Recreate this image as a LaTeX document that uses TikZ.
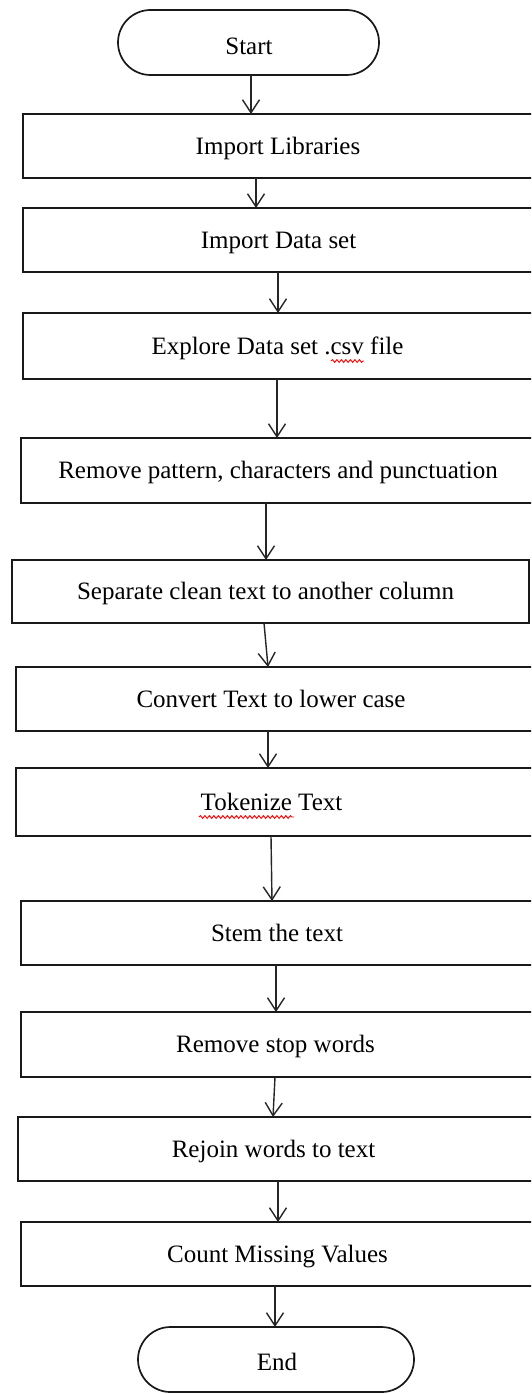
\documentclass[tikz,border=0pt]{standalone}
\usepackage{fontspec}
\setmainfont{Liberation Serif}
\usetikzlibrary{arrows.meta,shapes.misc,decorations.pathmorphing}

% box: name, left, top, right, bottom, text centre x, text
\newcommand\flowbox[7]{%
  \node[boxst, minimum width={#4-#2}, minimum height={#5-#3}] (#1) at ({(#2+#4)/2},{(#3+#5)/2}) {};
  \node[lbl] (#1t) at (#6,{(#3+#5)/2}) {#7};}

\begin{document}
\begin{tikzpicture}[x=1pt,y=-1pt,
  boxst/.style={draw=black!90, line width=1.7pt, rectangle, inner sep=0pt, outer sep=0pt},
  termst/.style={draw=black!90, line width=1.7pt, rounded rectangle, inner sep=0pt, outer sep=0pt},
  lbl/.style={font=\fontsize{25}{29}\selectfont, inner sep=0pt, text height=16.5pt, text depth=0pt},
  flow/.style={draw=black!85, line width=1.4pt, -{Straight Barb[length=13pt,width=17pt]}},
  spell/.style={draw=red, line width=0.9pt, decorate, decoration={snake, amplitude=1.4pt, segment length=4.5pt}}]

\useasboundingbox (0,0) rectangle (531,1394);
\clip (0,0) rectangle (531,1394);
\fill[white] (0,0) rectangle (531,1394);

% terminals
\node[termst, minimum width=261, minimum height=65] (S) at (248.5,42.5) {};
\node[lbl] (St) at (249,46) {Start};

\flowbox{b1}{23}{114}{545}{178}{278}{Import Libraries}
\flowbox{b2}{23}{208}{545}{272}{278.5}{Import Data set}
\flowbox{b3}{23}{313}{545}{379}{277.5}{Explore Data set .csv file}
\flowbox{b4}{21}{438}{545}{503}{278}{Remove pattern, characters and punctuation}
\flowbox{b5}{12}{560}{529}{623}{265.5}{Separate clean text to another column}
\flowbox{b6}{16}{667}{545}{731}{271}{Convert Text to lower case}
\flowbox{b7}{16}{768}{545}{836}{271.5}{Tokenize Text}
\flowbox{b8}{21}{901}{545}{965}{277}{Stem the text}
\flowbox{b9}{21}{1012}{545}{1077}{275.5}{Remove stop words}
\flowbox{b10}{18}{1117}{545}{1181}{273.5}{Rejoin words to text}
\flowbox{b11}{21}{1222}{545}{1286}{277.5}{Count Missing Values}

\node[termst, minimum width=276, minimum height=65] (E) at (276,1359.5) {};
\node[lbl] (Et) at (277,1362) {End};

% spelling marks under words
\draw[spell] (331,361) -- (364,361);
\draw[spell] (199,817) -- (294,817);

% connectors
\draw[flow] (251,0 |- S.south) -- (251,0 |- b1.north);
\draw[flow] (256,0 |- b1.south) -- (256,0 |- b2.north);
\draw[flow] (278,0 |- b2.south) -- (278,0 |- b3.north);
\draw[flow] (277,0 |- b3.south) -- (277,0 |- b4.north);
\draw[flow] (266,0 |- b4.south) -- (266,0 |- b5.north);
\draw[flow] (264,0 |- b5.south) -- (268,0 |- b6.north);
\draw[flow] (268,0 |- b6.south) -- (268,0 |- b7.north);
\draw[flow] (271,0 |- b7.south) -- (272,0 |- b8.north);
\draw[flow] (276,0 |- b8.south) -- (276,0 |- b9.north);
\draw[flow] (275,0 |- b9.south) -- (273,0 |- b10.north);
\draw[flow] (278,0 |- b10.south) -- (278,0 |- b11.north);
\draw[flow] (275,0 |- b11.south) -- (275,0 |- E.north);
\end{tikzpicture}
\end{document}
